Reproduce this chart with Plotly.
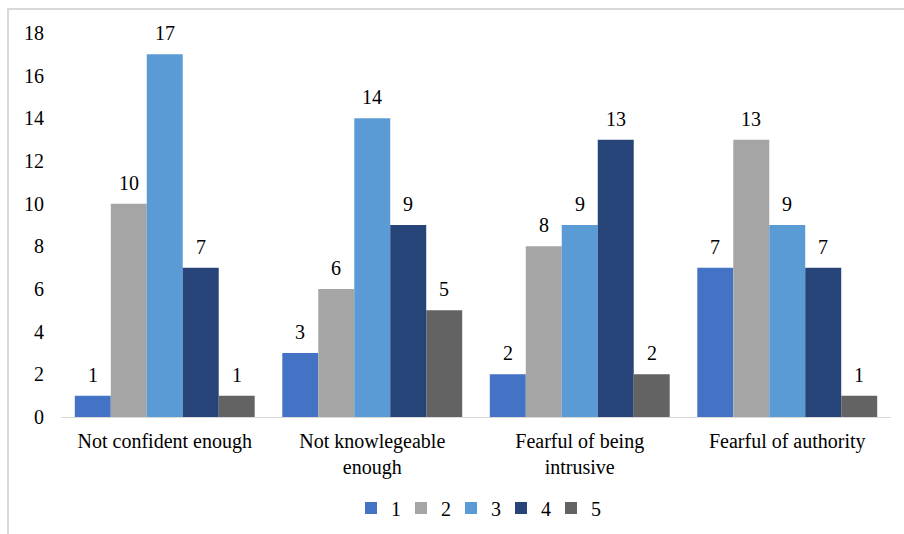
import plotly.graph_objects as go

# Survey categories (multi-line labels for the longer ones)
categories = [
    "Not confident enough",
    "Not knowlegeable<br>enough",
    "Fearful of being<br>intrusive",
    "Fearful of authority",
]

# Counts per rating
series_names = ["1", "2", "3", "4", "5"]
rating_1 = [1, 3, 2, 7]
rating_2 = [10, 6, 8, 13]
rating_3 = [17, 14, 9, 9]
rating_4 = [7, 9, 13, 7]
rating_5 = [1, 5, 2, 1]

y_ticks = [0, 2, 4, 6, 8, 10, 12, 14, 16, 18]

colors = ["#4472C4", "#A5A5A5", "#5B9BD5", "#264478", "#636363"]
series_values = [rating_1, rating_2, rating_3, rating_4, rating_5]

FONT = '"Liberation Serif", "DejaVu Serif", "Noto Serif", serif'
BARGAP = 0.133

fig = go.Figure()
for name, vals, col in zip(series_names, series_values, colors):
    fig.add_trace(go.Bar(
        name=name,
        x=categories,
        y=vals,
        marker=dict(color=col, line=dict(width=0)),
        cliponaxis=False,
    ))

# Value labels above each bar, placed at the grouped-bar centres
n_series = len(series_values)
bar_w = (1 - BARGAP) / n_series
annotations = []
for j, vals in enumerate(series_values):
    for i, v in enumerate(vals):
        annotations.append(dict(
            x=i - (1 - BARGAP) / 2 + (j + 0.5) * bar_w,
            y=v,
            xref="x", yref="y",
            text=str(v),
            showarrow=False,
            yanchor="bottom",
            yshift=8,
            font=dict(family=FONT, size=20, color="#000000"),
        ))

fig.update_layout(
    width=904,
    height=534,
    margin=dict(l=61, r=13, t=33, b=117, autoexpand=False),
    paper_bgcolor="white",
    plot_bgcolor="white",
    barmode="group",
    bargap=BARGAP,
    bargroupgap=0,
    font=dict(family=FONT, size=20, color="#000000"),
    showlegend=True,
    legend=dict(
        orientation="h",
        x=0.5, xanchor="center",
        y=-0.237, yanchor="middle",
        font=dict(family=FONT, size=20, color="#000000"),
        itemwidth=30,
        entrywidth=5,
        entrywidthmode="pixels",
        traceorder="normal",
    ),
    xaxis=dict(
        showline=True,
        linecolor="#D9D9D9",
        linewidth=1,
        showgrid=False,
        ticks="",
        tickangle=0,
        tickfont=dict(family=FONT, size=20),
        ticklabelstandoff=6,
    ),
    yaxis=dict(
        range=[0, 18],
        tickvals=y_ticks,
        showline=False,
        showgrid=False,
        zeroline=False,
        ticks="",
        tickfont=dict(family=FONT, size=20),
        ticklabelstandoff=16,
    ),
    annotations=annotations,
    shapes=[
        dict(
            type="rect", xref="paper", yref="paper",
            x0=-53 / 830, x1=1.2, y0=-2.0, y1=1 + 24 / 384,
            line=dict(color="#D9D9D9", width=2),
            fillcolor="rgba(0,0,0,0)",
            layer="below",
        )
    ],
)

fig.write_html("out.html")
